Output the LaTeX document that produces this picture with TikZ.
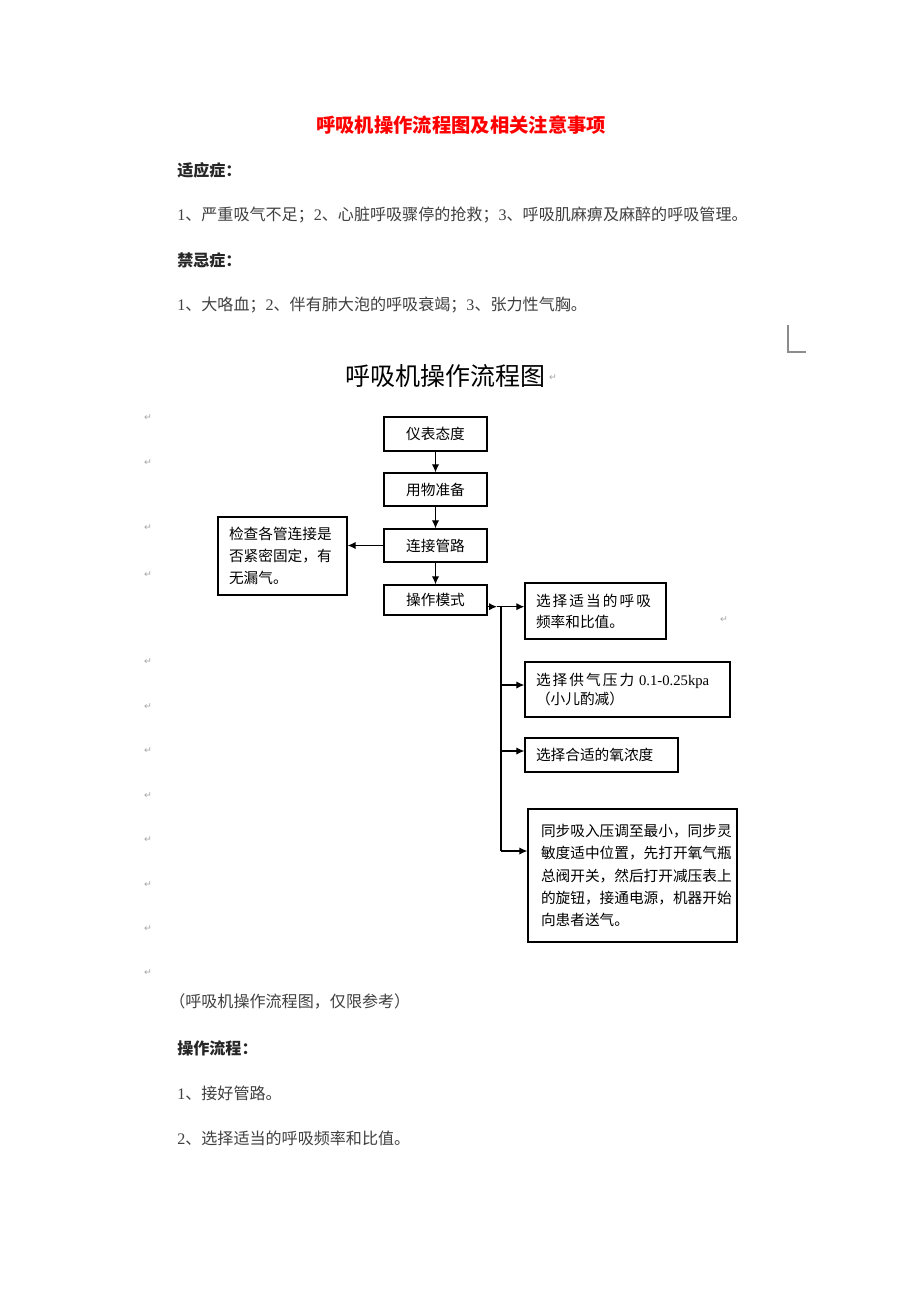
\documentclass[tikz,border=0pt]{standalone}
\usepackage{fontspec}
\setmainfont{Liberation Serif}
\newfontfamily\cjk{Noto Sans CJK SC}
\newfontfamily\cjksp[LetterSpace=14]{Noto Sans CJK SC}
\newfontfamily\symf{DejaVu Sans}
\usetikzlibrary{arrows.meta}
\begin{document}
\begin{tikzpicture}[x=0.75pt,y=-0.75pt,
  box/.style={draw=black,line width=1pt,inner ysep=0pt,inner xsep=8.25pt,align=left,
    font=\cjk\fontsize{11}{16.5}\selectfont},
  cbox/.style={draw=black,line width=1pt,inner sep=0pt,minimum width=77.25pt,
    font=\cjk\fontsize{11}{14}\selectfont},
  arr/.style={line width=0.9pt,-{Latex[length=6pt,width=5.5pt]}},
  line/.style={line width=0.9pt},
  body/.style={anchor=west,inner sep=0pt,font=\cjk\fontsize{12.05}{14}\selectfont,text=black!75},
  head/.style={anchor=west,inner sep=0pt,font=\cjk\bfseries\fontsize{12.05}{14}\selectfont,text=black!85},
  pmark/.style={inner sep=0pt,font=\symf\fontsize{7}{8}\selectfont,text=black!35}]
\fill[white] (0,0) rectangle (920,1302);
\useasboundingbox (0,0) rectangle (920,1302);

% header texts
\node[inner sep=0pt,font=\cjk\bfseries\fontsize{14.5}{18}\selectfont,text=red] (title) at (461,125) {呼吸机操作流程图及相关注意事项};
\node[head] (h1) at (177,170) {适应症：};
\node[body] (l1) at (177,215) {{\rmfamily 1}、严重吸气不足；{\rmfamily 2}、心脏呼吸骤停的抢救；{\rmfamily 3}、呼吸肌麻痹及麻醉的呼吸管理。};
\node[head] (h2) at (177,260) {禁忌症：};
\node[body] (l2) at (177,305) {{\rmfamily 1}、大咯血；{\rmfamily 2}、伴有肺大泡的呼吸衰竭；{\rmfamily 3}、张力性气胸。};

% corner mark
\draw[black!45,line width=0.8pt] (788,325) -- (788,352) -- (806,352);

% flowchart title
\node[inner sep=0pt,font=\cjk\fontsize{18.75}{22}\selectfont] (ftitle) at (445,376) {呼吸机操作流程图};
\node[pmark] (pt) at (553,378) {↵};

% main column
\node[cbox,minimum height=25.5pt] (A) at (435.5,434) {仪表态度};
\node[cbox,minimum height=24.75pt] (B) at (435.5,489.5) {用物准备};
\node[cbox,minimum height=24.75pt] (C) at (435.5,545.5) {连接管路};
\node[cbox,minimum height=22.5pt] (D) at (435.5,600) {操作模式};

% left box
\node[box,text width=80.25pt,minimum height=58.5pt] (E) at (282.5,556)
  {检查各管连接是\\否紧密固定，有\\无漏气。};

% right boxes
\node[box,text width=89.25pt,minimum height=42pt,font=\cjk\fontsize{11}{15.75}\selectfont] (F) at (595.5,611)
  {{\cjksp 选择适当的呼吸}\\频率和比值。};
\node[box,text width=137.25pt,minimum height=41.25pt,font=\cjk\fontsize{11}{14.25}\selectfont] (G) at (627.5,689.5)
  {{\cjksp 选择供气压力}\ {\rmfamily 0.1-0.25kpa}\\（小儿酌减）};
\node[box,text width=98.25pt,minimum height=25.5pt] (H) at (601.5,755) {选择合适的氧浓度};
\node[box,inner xsep=9.75pt,text width=137.25pt,minimum height=99.75pt,font=\cjk\fontsize{11}{16.7}\selectfont] (I) at (632.5,875.5)
  {同步吸入压调至最小，同步灵\\敏度适中位置，先打开氧气瓶\\总阀开关，然后打开减压表上\\的旋钮，接通电源，机器开始\\向患者送气。\\[5pt]};
\node[pmark] (pf) at (724,620) {↵};

% connectors
\draw[arr] (A) -- (B);
\draw[arr] (B) -- (C);
\draw[arr] (C) -- (D);
\draw[arr] (C.west) -- (C.west -| E.east);

\coordinate (M) at (497,606.7);
\coordinate (T0) at (501,606.7);
\coordinate (b2) at (501,685);
\coordinate (b3) at (501,751);
\coordinate (b4) at (501,851);
\draw[arr] (D.east |- M) -- (M);
\draw[arr] (M) -- (M -| F.west);
\draw[line] (T0) -- (b4);
\draw[arr] (b2) -- (b2 -| G.west);
\draw[arr] (b3) -- (b3 -| H.west);
\draw[arr] (b4) -- (b4 -| I.west);

% paragraph marks in margin
\foreach \yy in {418,463,528,575,662,707,751,796,840,885,929,973}
  \node[pmark] (p\yy) at (148,\yy) {↵};

% lower texts
\node[body,anchor=west] (cap) at (169,1001) {（呼吸机操作流程图，仅限参考）};
\node[head] (h3) at (177,1048) {操作流程：};
\node[body] (s1) at (177,1093) {{\rmfamily 1}、接好管路。};
\node[body] (s2) at (177,1138) {{\rmfamily 2}、选择适当的呼吸频率和比值。};
\end{tikzpicture}
\end{document}
